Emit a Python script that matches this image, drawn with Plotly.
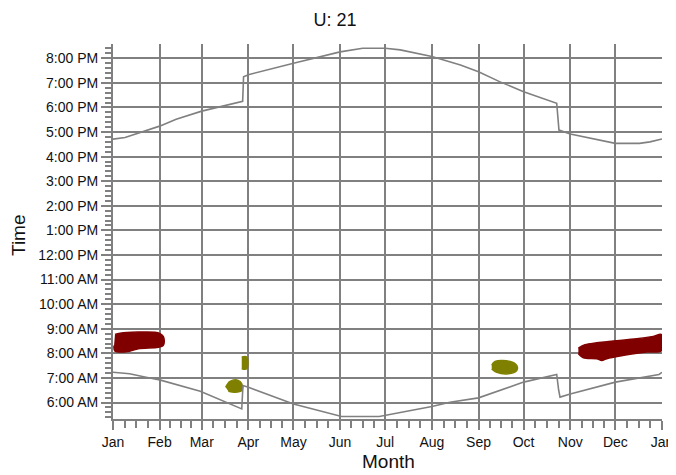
import plotly.graph_objects as go

# ---- axis categories / tick labels ----
month_labels = ["Jan", "Feb", "Mar", "Apr", "May", "Jun", "Jul", "Aug",
                "Sep", "Oct", "Nov", "Dec", "Jan"]
month_days = [0, 31, 59, 90, 120, 151, 181, 212, 243, 273, 304, 334, 365]
hour_vals = [6, 7, 8, 9, 10, 11, 12, 13, 14, 15, 16, 17, 18, 19, 20]
hour_labels = ["6:00 AM", "7:00 AM", "8:00 AM", "9:00 AM", "10:00 AM",
               "11:00 AM", "12:00 PM", "1:00 PM", "2:00 PM", "3:00 PM",
               "4:00 PM", "5:00 PM", "6:00 PM", "7:00 PM", "8:00 PM"]

# ---- sunset line (day of year, decimal hour) ----
sunset_day = [0, 8, 31, 42, 59, 84, 86.2, 86.8, 90, 120, 151, 166, 181, 191,
              212, 231, 243, 257, 273, 295, 296.5, 304, 334, 350, 357, 365]
sunset_hour = [16.71, 16.78, 17.24, 17.52, 17.85, 18.19, 18.25, 19.25, 19.33,
               19.80, 20.26, 20.41, 20.41, 20.34, 20.07, 19.73, 19.45, 19.05,
               18.64, 18.17, 17.08, 16.92, 16.54, 16.54, 16.60, 16.72]

# ---- sunrise line ----
sunrise_day = [0, 11, 22, 31, 58, 85.6, 86.4, 90, 120, 151, 152, 177, 189,
               212, 224, 243, 273, 295, 296.3, 297.2, 304, 334, 363, 365]
sunrise_hour = [7.23, 7.17, 7.03, 6.92, 6.46, 5.74, 6.69, 6.62, 5.94, 5.47,
                5.43, 5.43, 5.56, 5.84, 6.01, 6.19, 6.83, 7.14, 6.50, 6.22,
                6.35, 6.83, 7.14, 7.23]

# ---- event clusters (outline day, outline hour) ----
jan_cluster_day = [1.3, 4.7, 27.9, 31.3, 33.4, 34.1, 33.4, 30.1, 16.8, 11.3, 1.3, 0.7]
jan_cluster_hour = [8.77, 8.82, 8.86, 8.80, 8.69, 8.50, 8.32, 8.25, 8.19, 8.09, 8.09, 8.32]

dec_cluster_day = [309.4, 313.8, 321.6, 332.6, 348.2, 359.2, 364.8, 364.8,
                   354.9, 337.1, 328.3, 324.9, 321.6, 312.7, 309.4]
dec_cluster_hour = [8.21, 8.35, 8.43, 8.50, 8.59, 8.69, 8.76, 8.12,
                    8.05, 7.89, 7.78, 7.71, 7.78, 7.82, 7.98]

mar_cluster_day = [74.9, 77.8, 83.3, 85.6, 85.6, 81.1, 76.7]
mar_cluster_hour = [6.62, 6.86, 6.90, 6.76, 6.49, 6.42, 6.46]

apr_cluster_day = [85.6, 88.9, 88.9, 85.6]
apr_cluster_hour = [7.85, 7.85, 7.37, 7.37]

sep_cluster_day = [251.8, 254.0, 264.0, 268.4, 268.4, 262.8, 255.1, 251.8]
sep_cluster_hour = [7.51, 7.67, 7.67, 7.51, 7.30, 7.17, 7.23, 7.37]

RED = "#800000"
OLIVE = "#808000"
GRAY = "#808080"
FONT = "Liberation Sans, Arial, sans-serif"

fig = go.Figure()

for d, h, c in [(jan_cluster_day, jan_cluster_hour, RED),
                (dec_cluster_day, dec_cluster_hour, RED),
                (mar_cluster_day, mar_cluster_hour, OLIVE),
                (apr_cluster_day, apr_cluster_hour, OLIVE),
                (sep_cluster_day, sep_cluster_hour, OLIVE)]:
    fig.add_trace(go.Scatter(x=d, y=h, mode="lines", fill="toself",
                             fillcolor=c, line=dict(color=c, width=1.5),
                             line_shape="spline", hoverinfo="skip"))

fig.add_trace(go.Scatter(x=sunset_day, y=sunset_hour, mode="lines",
                         line=dict(color=GRAY, width=1.6)))
fig.add_trace(go.Scatter(x=sunrise_day, y=sunrise_hour, mode="lines",
                         line=dict(color=GRAY, width=1.6)))

# quarter-month minor ticks
minor_x = []
for a, b in zip(month_days[:-1], month_days[1:]):
    for k in range(1, 4):
        minor_x.append(a + (b - a) * k / 4)

# page body adds an 8px offset; figure sized to fit the 676x475 window
W, H = 668, 467

fig.update_layout(
    width=W, height=H,
    margin=dict(l=105, r=14, t=36, b=56),
    paper_bgcolor="white", plot_bgcolor="white",
    showlegend=False,
    font=dict(family=FONT, size=14, color="#111111"),
    title=dict(text="U: 21", x=327 / W, xref="container", xanchor="center",
               y=1 - 12 / H, yref="container", yanchor="middle",
               font=dict(family=FONT, size=18, color="#111111")),
    xaxis=dict(range=[0, 365], tickmode="array", tickvals=month_days,
               ticktext=month_labels, showgrid=True, gridcolor=GRAY,
               gridwidth=2, showline=True, linecolor=GRAY, linewidth=2,
               ticks="outside", ticklen=9, tickcolor=GRAY, tickwidth=2,
               zeroline=False, fixedrange=True, automargin=False,
               ticklabeloverflow="allow",
               minor=dict(tickvals=minor_x, ticks="outside", ticklen=7,
                          tickcolor=GRAY, tickwidth=1.5, showgrid=False),
               tickfont=dict(size=14)),
    yaxis=dict(range=[5.33, 20.58], tickmode="array", tickvals=hour_vals,
               ticktext=hour_labels, showgrid=True, gridcolor=GRAY,
               gridwidth=2, showline=True, linecolor=GRAY, linewidth=2,
               ticks="outside", ticklen=10, tickcolor=GRAY, tickwidth=2,
               zeroline=False, fixedrange=True, automargin=False,
               minor=dict(dtick=0.2, tick0=0, ticks="outside", ticklen=6,
                          tickcolor=GRAY, tickwidth=1.5, showgrid=False),
               tickfont=dict(size=14)),
    annotations=[
        dict(text="Time", xref="paper", yref="paper",
             x=(18 - 113) / 549, y=(419 - 235) / 375, textangle=-90,
             showarrow=False, xanchor="center", yanchor="middle",
             font=dict(family=FONT, size=19, color="#111111")),
        dict(text="Month", xref="paper", yref="paper",
             x=(388 - 113) / 549, y=(419 - 461) / 375,
             showarrow=False, xanchor="center", yanchor="middle",
             font=dict(family=FONT, size=19, color="#111111")),
    ],
)

fig.write_html("out.html")
